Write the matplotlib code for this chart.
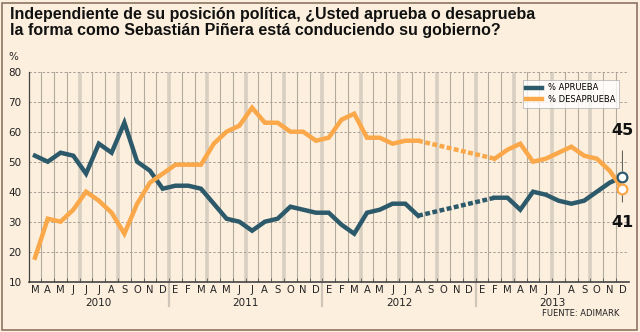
import numpy as np
import matplotlib.pyplot as plt
from matplotlib.patches import Rectangle

# month labels as printed on the chart (2010 has an extra J column)
months_2010 = ['M', 'A', 'M', 'J', 'J', 'J', 'A', 'S', 'O', 'N', 'D']
months_year = ['E', 'F', 'M', 'A', 'M', 'J', 'J', 'A', 'S', 'O', 'N', 'D']
years = ['2010', '2011', '2012', '2013']
month_labels = months_2010 + months_year * 3

# None = no survey (joined with a dotted segment)
aprueba = [52, 50, 53, 52, 46, 56, 53, 63, 50, 47,
           41, 42, 42, 41, 36, 31, 30, 27, 30, 31, 35, 34, 33,
           33, 29, 26, 33, 34, 36, 36, 32, None, None, None, None, None,
           38, 38, 34, 40, 39, 37, 36, 37, 40, 43, 45]
desaprueba = [18, 31, 30, 34, 40, 37, 33, 26, 36, 43,
              46, 49, 49, 49, 56, 60, 62, 68, 63, 63, 60, 60, 57,
              58, 64, 66, 58, 58, 56, 57, 57, None, None, None, None, None,
              51, 54, 56, 50, 51, 53, 55, 52, 51, 47, 41]

c_apr = '#2d5a6b'
c_des = '#fba84a'
bg = '#fcefdd'

fig = plt.figure(figsize=(6.4, 3.32), dpi=100, facecolor=bg)
ax = fig.add_axes([0.0447, 0.1515, 0.9378, 0.6325])
ax.set_facecolor(bg)

x = np.arange(len(month_labels))
n = len(x)

# vertical grid: thin between months, wide every quarter
year_sizes = [len(months_2010), 12, 12, 12]
year_ends = np.cumsum(year_sizes) - 1
thick = {3, 6}
for e in year_ends[:-1]:
    thick.update([e, e + 3, e + 6, e + 9])
for i in range(n - 1):
    if i in thick:
        ax.axvline(i + 0.5, color='#d9cfc1', lw=2.6, zorder=1)
    else:
        ax.axvline(i + 0.5, color='#b3a99d', lw=0.8, zorder=1)
for yv in range(20, 90, 10):
    ax.axhline(yv, color='#a8a098', lw=0.7, ls=(0, (2.5, 2)), zorder=1)


def draw(vals, color, label):
    v = np.array([np.nan if a is None else a for a in vals], dtype=float)
    ax.plot(x, v, color=color, lw=3.2, solid_joinstyle='miter', zorder=3, label=label)
    ok = np.where(~np.isnan(v))[0]
    gaps = np.where(np.diff(ok) > 1)[0]
    for g in gaps:
        a, b = ok[g], ok[g + 1]
        ax.plot([x[a], x[b]], [v[a], v[b]], color=color, lw=3.2,
                ls=(0, (1.1, 0.55)), zorder=3)
    ax.plot(x[-1], v[-1], 'o', ms=7, mfc='white', mec=color, mew=1.6, zorder=5)
    return v


va = draw(aprueba, c_apr, '% APRUEBA')
vd = draw(desaprueba, c_des, '% DESAPRUEBA')

ax.annotate(f'{aprueba[-1]}', xy=(x[-1], va[-1]), xytext=(0, 33),
            textcoords='offset points', ha='center', va='center',
            fontsize=11.5, fontweight='bold', color='#111111',
            arrowprops=dict(arrowstyle='-', color='#555555', lw=0.7,
                            shrinkA=7, shrinkB=4))
ax.annotate(f'{desaprueba[-1]}', xy=(x[-1], vd[-1]), xytext=(0, -24),
            textcoords='offset points', ha='center', va='center',
            fontsize=11.5, fontweight='bold', color='#111111',
            arrowprops=dict(arrowstyle='-', color='#555555', lw=0.7,
                            shrinkA=7, shrinkB=4))

ax.set_xlim(-0.5, n - 0.5)
ax.set_ylim(10, 80)
ax.set_yticks(range(10, 90, 10))
ax.set_xticks(x)
ax.set_xticklabels(month_labels, fontsize=7.2, color='#222222')
ax.set_xticks(np.arange(n - 1) + 0.5, minor=True)
ax.tick_params(axis='x', which='major', length=0, pad=2.5)
ax.tick_params(axis='x', which='minor', length=3, direction='in', color='#555555')
ax.tick_params(axis='y', length=0, labelsize=7.5, labelcolor='#222222', pad=5)
for s in ['top', 'right']:
    ax.spines[s].set_visible(False)
ax.spines['left'].set_color('#444444')
ax.spines['bottom'].set_color('#444444')
ax.spines['left'].set_linewidth(0.9)
ax.spines['bottom'].set_linewidth(1.2)

# year labels and separators under the axis
start = 0
for yr, sz in zip(years, year_sizes):
    ax.text(start + (sz - 1) / 2, -0.1, yr, transform=ax.get_xaxis_transform(),
            ha='center', va='center', fontsize=7.5, color='#222222')
    if start > 0:
        ax.plot([start - 0.5, start - 0.5], [0, -0.115], transform=ax.get_xaxis_transform(),
                color='#cfc6b9', lw=1.6, clip_on=False)
    start += sz

ax.text(-0.026, 1.07, '%', transform=ax.transAxes, fontsize=7.5, ha='center',
        va='center', color='#222222')

leg = ax.legend(loc='upper right', bbox_to_anchor=(0.984, 0.962), fontsize=6,
                frameon=True, fancybox=False, handlelength=1.9, borderpad=0.45,
                labelspacing=0.3, handletextpad=0.7, borderaxespad=0)
leg.get_frame().set_edgecolor('#aaaaaa')
leg.get_frame().set_linewidth(0.6)

fig.text(0.016, 0.978,
         'Independiente de su posición política, ¿Usted aprueba o desaprueba\n'
         'la forma como Sebastián Piñera está conduciendo su gobierno?',
         ha='left', va='top', fontsize=11.5, fontweight='bold',
         family=['Liberation Sans', 'DejaVu Sans'], color='#111111',
         linespacing=1.05)
fig.text(0.968, 0.057, 'FUENTE: ADIMARK', ha='right', va='center', fontsize=6,
         color='#222222')

fig.patches.append(Rectangle((0.003, 0.006), 0.992, 0.985, transform=fig.transFigure,
                             fill=False, edgecolor='#8e7463', lw=1.2))

fig.savefig('out.png', dpi=100, facecolor=bg)
